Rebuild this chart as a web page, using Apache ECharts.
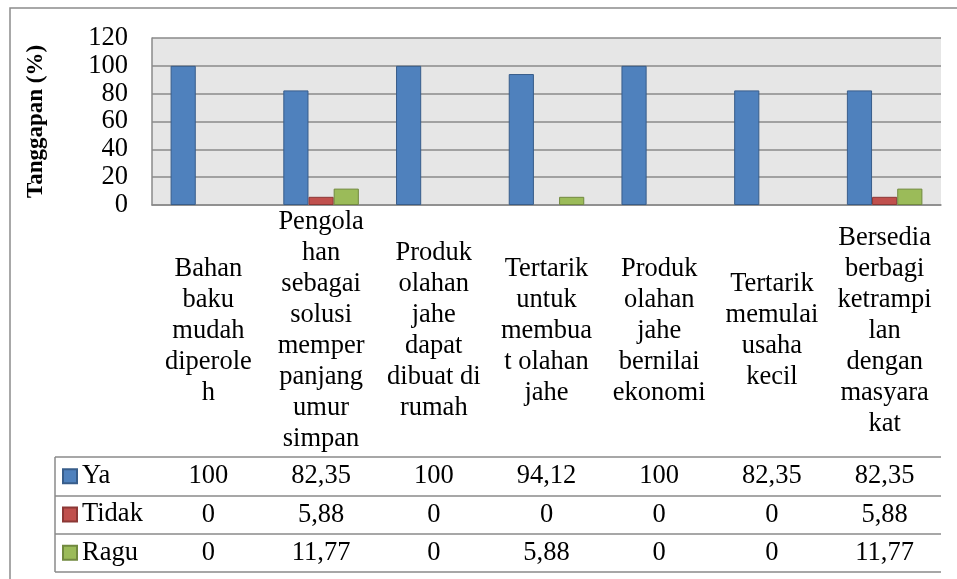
<!DOCTYPE html>
<html>
<head>
<meta charset="utf-8">
<script src="https://cdn.jsdelivr.net/npm/echarts@6/dist/echarts.min.js"></script>
<style>
html, body { margin: 0; padding: 0; background: #fff; }
#chart { width: 957px; height: 579px; }
</style>
</head>
<body>
<div id="chart"></div>
<script>
// categories (wrapped the same way as the original data table)
var categories = [
  'Bahan\nbaku\nmudah\ndiperole\nh',
  'Pengola\nhan\nsebagai\nsolusi\nmemper\npanjang\numur\nsimpan',
  'Produk\nolahan\njahe\ndapat\ndibuat di\nrumah',
  'Tertarik\nuntuk\nmembua\nt olahan\njahe',
  'Produk\nolahan\njahe\nbernilai\nekonomi',
  'Tertarik\nmemulai\nusaha\nkecil',
  'Bersedia\nberbagi\nketrampi\nlan\ndengan\nmasyara\nkat'
];
var seriesNames = ['Ya', 'Tidak', 'Ragu'];
var ya = [100, 82.35, 100, 94.12, 100, 82.35, 82.35];
var tidak = [0, 5.88, 0, 0, 0, 0, 5.88];
var ragu = [0, 11.77, 0, 5.88, 0, 0, 11.77];
var yTicks = { min: 0, max: 120, interval: 20 };

var font = "'Liberation Serif', 'Times New Roman', serif";
var fs = 26.5;
var gridCol = '#8a8a8a';

// layout
var L = 152, R = 941, T = 38, B = 205;
var rowTops = [457, 496, 534, 572];
var legendLeft = 55;

function fmt(v) { return String(v).replace('.', ','); }

var myChart = echarts.init(document.getElementById('chart'));

function rowAxis(values, rowIdx) {
  var top = rowTops[rowIdx], bot = rowTops[rowIdx + 1];
  return {
    type: 'category',
    gridIndex: 0,
    position: 'bottom',
    offset: top - B,
    data: values.map(fmt),
    axisLine: { show: false },
    axisTick: { show: false },
    axisLabel: {
      interval: 0,
      margin: (bot - top) / 2,
      verticalAlign: 'middle',
      color: '#000',
      fontFamily: font,
      fontSize: fs
    }
  };
}

var lines = [];
rowTops.forEach(function (y) {
  lines.push({ type: 'line', shape: { x1: legendLeft, y1: y, x2: R, y2: y },
    style: { stroke: gridCol, lineWidth: 1.5 } });
});
lines.push({ type: 'line', shape: { x1: legendLeft, y1: rowTops[0], x2: legendLeft, y2: rowTops[3] },
  style: { stroke: gridCol, lineWidth: 1.5 } });
// outer chart frame
lines.push({ type: 'rect', shape: { x: 10, y: 8, width: 980, height: 620 },
  style: { stroke: '#8c8c8c', lineWidth: 1.5, fill: null } });

var colors = [
  { fill: '#4F81BD', border: '#385D8A' },
  { fill: '#C0504D', border: '#8C3836' },
  { fill: '#9BBB59', border: '#71893F' }
];

myChart.setOption({
  animation: false,
  grid: {
    left: L, right: 957 - R, top: T, bottom: 579 - B,
    show: true, backgroundColor: '#E6E6E6', borderWidth: 0
  },
  legend: {
    orient: 'vertical',
    left: 62,
    top: rowTops[0],
    padding: 0,
    height: 120,
    itemGap: 0,
    itemWidth: 14,
    itemHeight: 14,
    icon: 'rect',
    data: seriesNames,
    textStyle: { fontFamily: font, fontSize: fs, color: '#000', lineHeight: 38.3 }
  },
  xAxis: [{
    type: 'category',
    data: categories,
    axisLine: { lineStyle: { color: gridCol, width: 1.5 } },
    axisTick: { length: rowTops[3] - B, lineStyle: { color: gridCol, width: 1.5 } },
    axisLabel: {
      interval: 0,
      margin: (rowTops[0] - B) / 2,
      verticalAlign: 'middle',
      lineHeight: 31,
      color: '#000',
      fontFamily: font,
      fontSize: fs
    }
  },
    rowAxis(ya, 0),
    rowAxis(tidak, 1),
    rowAxis(ragu, 2)
  ],
  yAxis: {
    type: 'value',
    min: yTicks.min,
    max: yTicks.max,
    interval: yTicks.interval,
    name: 'Tanggapan (%)',
    nameLocation: 'middle',
    nameGap: 104,
    nameTextStyle: { fontFamily: font, fontSize: 23, fontWeight: 'bold', color: '#000' },
    axisLine: { show: true, lineStyle: { color: gridCol, width: 1.5 } },
    axisTick: { show: false },
    splitLine: { lineStyle: { color: gridCol, width: 1.5 } },
    axisLabel: { margin: 24, color: '#000', fontFamily: font, fontSize: fs }
  },
  graphic: lines,
  series: [ya, tidak, ragu].map(function (vals, i) {
    return {
      name: seriesNames[i],
      type: 'bar',
      // zero values get no outline, as in the original
      data: vals.map(function (v) {
        return v === 0 ? { value: v, itemStyle: { borderWidth: 0 } } : v;
      }),
      barGap: '0%',
      barCategoryGap: '33%',
      itemStyle: { color: colors[i].fill, borderColor: colors[i].border, borderWidth: 1 }
    };
  })
});
</script>
</body>
</html>
